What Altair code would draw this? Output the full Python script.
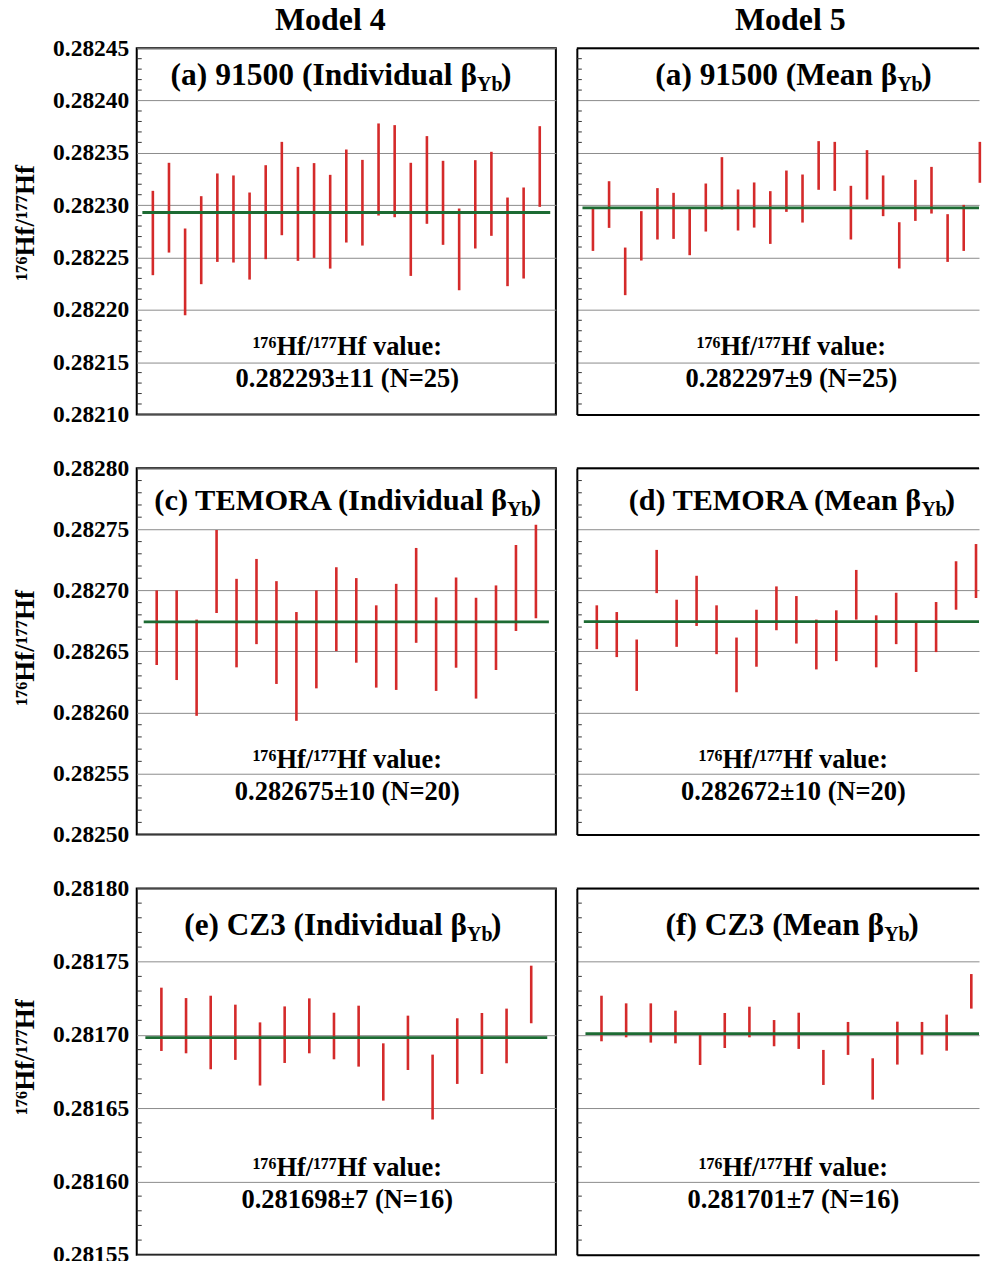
import altair as alt
import pandas as pd

FONT = "Liberation Serif"
RED = "#d42a2a"
GREEN = "#1d6b33"
GRID = "#8c8c8c"

# ---------------- data ----------------
# (a) 91500, Model 4 (individual beta_Yb)
a_hi = [0.2823137, 0.2823405, 0.2822777, 0.2823086, 0.2823303, 0.2823284, 0.2823121, 0.2823382,
        0.2823605, 0.2823366, 0.2823402, 0.2823290, 0.2823532, 0.2823433, 0.2823781, 0.2823765,
        0.2823405, 0.2823660, 0.2823424, 0.2822968, 0.2823430, 0.2823510, 0.2823073, 0.2823169,
        0.2823755]
a_lo = [0.2822331, 0.2822547, 0.2821948, 0.2822245, 0.2822458, 0.2822452, 0.2822289, 0.2822484,
        0.2822713, 0.2822468, 0.2822496, 0.2822394, 0.2822643, 0.2822614, 0.2822901, 0.2822885,
        0.2822324, 0.2822822, 0.2822621, 0.2822187, 0.2822586, 0.2822707, 0.2822226, 0.2822299,
        0.2822984]
# (b) 91500, Model 5 (mean beta_Yb)
b_hi = [0.2822978, 0.2823229, 0.2822595, 0.2822943, 0.2823163, 0.2823118, 0.2822965, 0.2823207,
        0.2823459, 0.2823150, 0.2823217, 0.2823134, 0.2823331, 0.2823293, 0.2823612, 0.2823605,
        0.2823185, 0.2823526, 0.2823284, 0.2822837, 0.2823242, 0.2823366, 0.2822914, 0.2823003,
        0.2823605]
b_lo = [0.2822563, 0.2822783, 0.2822140, 0.2822471, 0.2822672, 0.2822678, 0.2822522, 0.2822748,
        0.2822959, 0.2822758, 0.2822786, 0.2822630, 0.2822936, 0.2822834, 0.2823147, 0.2823137,
        0.2822672, 0.2823054, 0.2822895, 0.2822395, 0.2822850, 0.2822920, 0.2822458, 0.2822563,
        0.2823214]
# (c) TEMORA, Model 4
c_hi = [0.2827000, 0.2827000, 0.2826761, 0.2827495, 0.2827095, 0.2827258, 0.2827076, 0.2826823,
        0.2827000, 0.2827190, 0.2827101, 0.2826878, 0.2827054, 0.2827348, 0.2826943, 0.2827106,
        0.2826940, 0.2827041, 0.2827372, 0.2827538]
c_lo = [0.2826389, 0.2826266, 0.2825973, 0.2826815, 0.2826370, 0.2826560, 0.2826234, 0.2825932,
        0.2826198, 0.2826503, 0.2826408, 0.2826204, 0.2826185, 0.2826571, 0.2826177, 0.2826367,
        0.2826114, 0.2826348, 0.2826668, 0.2826772]
# (d) TEMORA, Model 5
d_hi = [0.2826878, 0.2826823, 0.2826598, 0.2827332, 0.2826924, 0.2827120, 0.2826878, 0.2826614,
        0.2826842, 0.2827033, 0.2826954, 0.2826761, 0.2826837, 0.2827168, 0.2826796, 0.2826981,
        0.2826736, 0.2826905, 0.2827239, 0.2827380]
d_lo = [0.2826519, 0.2826454, 0.2826177, 0.2826978, 0.2826538, 0.2826709, 0.2826478, 0.2826166,
        0.2826375, 0.2826674, 0.2826565, 0.2826353, 0.2826421, 0.2826761, 0.2826370, 0.2826560,
        0.2826332, 0.2826495, 0.2826842, 0.2826938]
# (e) CZ3, Model 4
e_hi = [0.2817323, 0.2817252, 0.2817268, 0.2817207, 0.2817086, 0.2817195, 0.2817250, 0.2817152,
        0.2817200, 0.2816943, 0.2817132, 0.2816866, 0.2817114, 0.2817150, 0.2817180, 0.2817473]
e_lo = [0.2816891, 0.2816875, 0.2816766, 0.2816830, 0.2816655, 0.2816809, 0.2816875, 0.2816834,
        0.2816784, 0.2816552, 0.2816761, 0.2816423, 0.2816666, 0.2816734, 0.2816807, 0.2817080]
# (f) CZ3, Model 5
f_hi = [0.2817268, 0.2817216, 0.2817216, 0.2817166, 0.2817002, 0.2817150, 0.2817193, 0.2817102,
        0.2817152, 0.2816898, 0.2817089, 0.2816841, 0.2817091, 0.2817089, 0.2817139, 0.2817416]
f_lo = [0.2816957, 0.2816984, 0.2816948, 0.2816943, 0.2816795, 0.2816911, 0.2816984, 0.2816923,
        0.2816905, 0.2816659, 0.2816864, 0.2816559, 0.2816798, 0.2816866, 0.2816893, 0.2817180]

means = {"a": 0.282293, "b": 0.2822975, "c": 0.2826742, "d": 0.2826745, "e": 0.2816982, "f": 0.2817009}

# axis ticks / domains
top_ticks = [0.28210, 0.28215, 0.28220, 0.28225, 0.28230, 0.28235, 0.28240, 0.28245]
mid_ticks = [0.28250, 0.28255, 0.28260, 0.28265, 0.28270, 0.28275, 0.28280]
bot_ticks = [0.28155, 0.28160, 0.28165, 0.28170, 0.28175, 0.28180]

titles = {
    "a": "(a) 91500 (Individual β", "b": "(a) 91500 (Mean β",
    "c": "(c) TEMORA (Individual β", "d": "(d) TEMORA (Mean β",
    "e": "(e) CZ3 (Individual β", "f": "(f) CZ3 (Mean β",
}
annot_label = "¹⁷⁶Hf/¹⁷⁷Hf value:"
annots = {
    "a": "0.282293±11 (N=25)", "b": "0.282297±9 (N=25)",
    "c": "0.282675±10 (N=20)", "d": "0.282672±10 (N=20)",
    "e": "0.281698±7 (N=16)", "f": "0.281701±7 (N=16)",
}
model_titles = ["Model 4", "Model 5"]
y_title = "¹⁷⁶Hf/¹⁷⁷Hf"

W, H = 420, 367      # full panel size
WR = 403             # visible part of the right-hand panels (cut at the page edge)


def minor(ticks):
    lo, hi = ticks[0], ticks[-1]
    n = int(round((hi - lo) / 0.00001))
    return [round(lo + k * 0.00001, 5) for k in range(1, n) if k % 5]


def txt(text, x, y, size, align="center", baseline="alphabetic"):
    return alt.Chart(pd.DataFrame({"t": [text]})).mark_text(
        align=align, baseline=baseline, font=FONT, fontWeight="bold",
        fontSize=size, color="black"
    ).encode(x=alt.value(x), y=alt.value(y), text="t:N")


def panel(key, hi, lo, ticks, left, title_y, sub_x, tsize, ann_y, ann_x,
          ytitle_y=None, model=None, model_x=0):
    n = len(hi)
    xmax = n + 1
    width = W if left else WR
    xs = alt.Scale(domain=[0, xmax * width / W], nice=False, zero=False)
    ys = alt.Scale(domain=[ticks[0], ticks[-1]], nice=False, zero=False)
    df = pd.DataFrame({"i": list(range(1, n + 1)), "hi": hi, "lo": lo})
    if left:
        yax = alt.Axis(values=ticks, format=".5f", grid=True, ticks=False, domain=False,
                       title=y_title, titleY=ytitle_y)
        xax = None
    else:
        yax = alt.Axis(values=ticks, grid=True, ticks=False, domain=True, domainColor="black",
                       domainWidth=2, labels=False, title=None)
        xax = alt.Axis(labels=False, ticks=False, grid=False, domain=True, domainColor="black",
                       domainWidth=2, title=None)
    bars = alt.Chart(df).mark_rule(color=RED, strokeWidth=2.6).encode(
        x=alt.X("i:Q", scale=xs, axis=xax),
        y=alt.Y("lo:Q", scale=ys, axis=yax),
        y2="hi:Q",
    )
    mdf = pd.DataFrame({"x1": [0.35], "x2": [n + 0.65], "m": [means[key]]})
    mline = alt.Chart(mdf).mark_rule(color=GREEN, strokeWidth=2.8, clip=True).encode(
        x=alt.X("x1:Q", scale=xs, axis=xax), x2="x2:Q",
        y=alt.Y("m:Q", scale=ys, axis=yax),
    )
    tdf = pd.DataFrame({"t": minor(ticks)})
    mticks = alt.Chart(tdf).mark_rule(color="#333333", strokeWidth=1).encode(
        y=alt.Y("t:Q", scale=ys, axis=yax), x=alt.value(0), x2=alt.value(5)
    )
    layers = [mticks, bars, mline,
              txt(titles[key], sub_x, title_y, tsize, "right"),
              txt("Yb", sub_x, title_y + 6, 20, "left"),
              txt(")", sub_x + 24, title_y, tsize, "left"),
              txt(annot_label, ann_x, ann_y, 26.5),
              txt(annots[key], ann_x, ann_y + 32, 26.5)]
    if not left:
        top = pd.DataFrame({"t": ["top"]})
        layers.append(alt.Chart(top).mark_rule(color="black", strokeWidth=2).encode(
            x=alt.value(0), x2=alt.value(width), y=alt.value(0)))
    if model:
        layers.append(txt(model, model_x, -18, 32))
    ch = alt.layer(*layers).properties(width=width, height=H)
    if not left:
        ch = ch.properties(view=alt.ViewBackground(strokeOpacity=0))
    return ch


row1 = alt.hconcat(
    panel("a", a_hi, a_lo, top_ticks, True, 37, 341, 31.6, 307, 211, H / 2 - 9, model_titles[0], 194),
    panel("b", b_hi, b_lo, top_ticks, False, 37, 321, 31.4, 307, 215, None, model_titles[1], 214),
    spacing=19,
)
row2 = alt.hconcat(
    panel("c", c_hi, c_lo, mid_ticks, True, 42, 371, 30.5, 300, 211, H / 2 - 4),
    panel("d", d_hi, d_lo, mid_ticks, False, 42, 345, 30.2, 300, 217),
    spacing=19,
)
row3 = alt.hconcat(
    panel("e", e_hi, e_lo, bot_ticks, True, 47, 331, 31.3, 288, 211, H / 2 - 15),
    panel("f", f_hi, f_lo, bot_ticks, False, 47, 308, 31.6, 288, 217),
    spacing=19,
)

chart = alt.vconcat(row1, row2, row3, spacing=28).properties(
    padding={"left": 2, "top": -6, "right": 0, "bottom": 0}
).configure_view(
    stroke="black", strokeWidth=2
).configure_axis(
    labelFont=FONT, labelFontWeight="bold", labelFontSize=23.5, labelColor="black",
    labelPadding=8, titleFont=FONT, titleFontWeight="bold", titleFontSize=27,
    titleColor="black", titlePadding=13, gridColor=GRID, gridWidth=1,
)

chart.save("out.html", embed_options={"renderer": "svg", "actions": False})
